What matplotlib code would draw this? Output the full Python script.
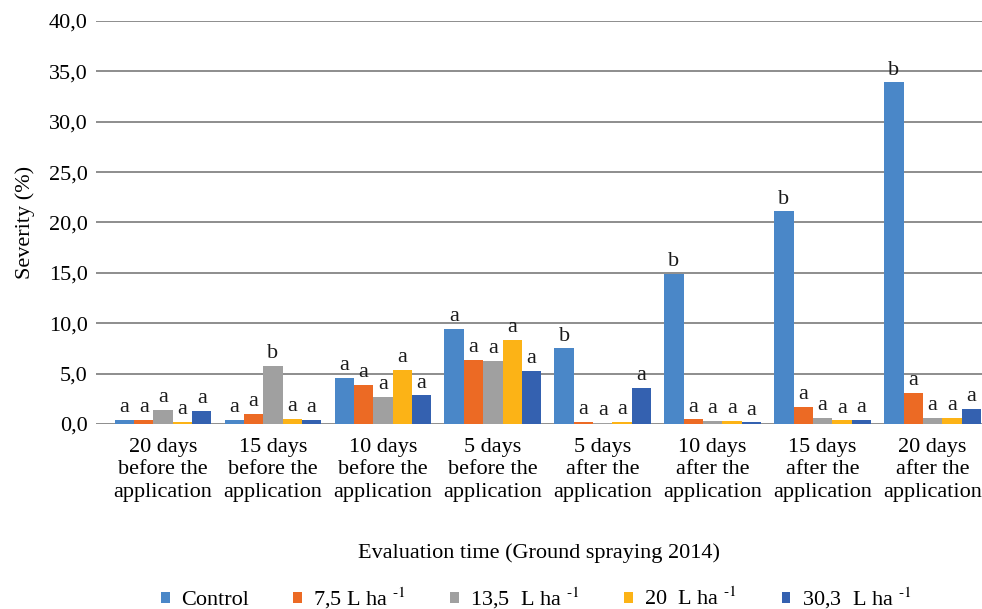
import matplotlib
matplotlib.use("Agg")
import matplotlib.pyplot as plt
import numpy as np

plt.rcParams["font.family"] = ["Liberation Serif", "DejaVu Serif"]
plt.rcParams["mathtext.fontset"] = "stix"

groups = [
    "20 days\nbefore the\napplication",
    "15 days\nbefore the\napplication",
    "10 days\nbefore the\napplication",
    "5 days\nbefore the\napplication",
    "5 days\nafter the\napplication",
    "10 days\nafter the\napplication",
    "15 days\nafter the\napplication",
    "20 days\nafter the\napplication",
]
series_names = [
    "Control",
    r"7,5 L ha $^{\text{-1}}$",
    r"13,5  L ha $^{\text{-1}}$",
    r"20  L ha $^{\text{-1}}$",
    r"30,3  L ha $^{\text{-1}}$",
]
control = [0.4, 0.4, 4.6, 9.45, 7.5, 14.9, 21.1, 33.9]
dose_7_5 = [0.4, 1.0, 3.9, 6.35, 0.2, 0.45, 1.7, 3.1]
dose_13_5 = [1.4, 5.75, 2.7, 6.3, 0.1, 0.3, 0.6, 0.6]
dose_20 = [0.2, 0.5, 5.4, 8.35, 0.2, 0.3, 0.35, 0.6]
dose_30_3 = [1.3, 0.4, 2.85, 5.25, 3.55, 0.15, 0.4, 1.5]

letters_control = ["a", "a", "a", "a", "b", "b", "b", "b"]
letters_7_5 = ["a", "a", "a", "a", "a", "a", "a", "a"]
letters_13_5 = ["a", "b", "a", "a", "a", "a", "a", "a"]
letters_20 = ["a", "a", "a", "a", "a", "a", "a", "a"]
letters_30_3 = ["a", "a", "a", "a", "a", "a", "a", "a"]

values = [control, dose_7_5, dose_13_5, dose_20, dose_30_3]
letters = [letters_control, letters_7_5, letters_13_5, letters_20, letters_30_3]
colors = ["#4a87c8", "#ec6a24", "#a0a0a0", "#fcb316", "#3461b0"]

fig = plt.figure(figsize=(9.82, 6.09), dpi=100)
ax = fig.add_axes([96 / 982, 185 / 609, 886 / 982, 403 / 609])

x = np.arange(len(groups))
width = 0.176
for i, (vals, labs, col, name) in enumerate(zip(values, letters, colors, series_names)):
    pos = x + (i - 2) * width
    ax.bar(pos, vals, width, color=col, label=name, zorder=3)
    for px, v, lab in zip(pos, vals, labs):
        ax.annotate(lab, (px, v), xytext=(0, 2), textcoords="offset points",
                    ha="center", va="bottom", fontsize=16, color="#1a1a1a")

ax.set_xlim(-0.61, 7.45)
ax.set_ylim(0, 40)
ax.set_yticks(np.arange(0, 41, 5))
ax.set_yticklabels([f"{t:.1f}".replace(".", ",") for t in np.arange(0, 41, 5)])
ax.yaxis.grid(True, color="#858585", linewidth=1.3, zorder=0)
ax.set_axisbelow(True)
for s in ["top", "right", "left", "bottom"]:
    ax.spines[s].set_visible(False)
ax.tick_params(axis="y", length=0, pad=6, labelsize=16)
ax.tick_params(axis="x", length=0, pad=10, labelsize=16)
ax.set_xticks(x)
ax.set_xticklabels(groups, linespacing=1.25)

ax.set_ylabel("Severity (%)", fontsize=16, labelpad=10)
fig.text(539 / 982, 1 - 553 / 609, "Evaluation time (Ground spraying 2014)",
         ha="center", va="center", fontsize=16)

fig.legend(loc="center", bbox_to_anchor=(536 / 982, 1 - 598 / 609), ncol=5,
           frameon=False, prop={"family": "Liberation Serif", "size": 16},
           handlelength=0.4, handleheight=0.4,
           handletextpad=0.5, columnspacing=2.0)

fig.savefig("out.png", dpi=100)
